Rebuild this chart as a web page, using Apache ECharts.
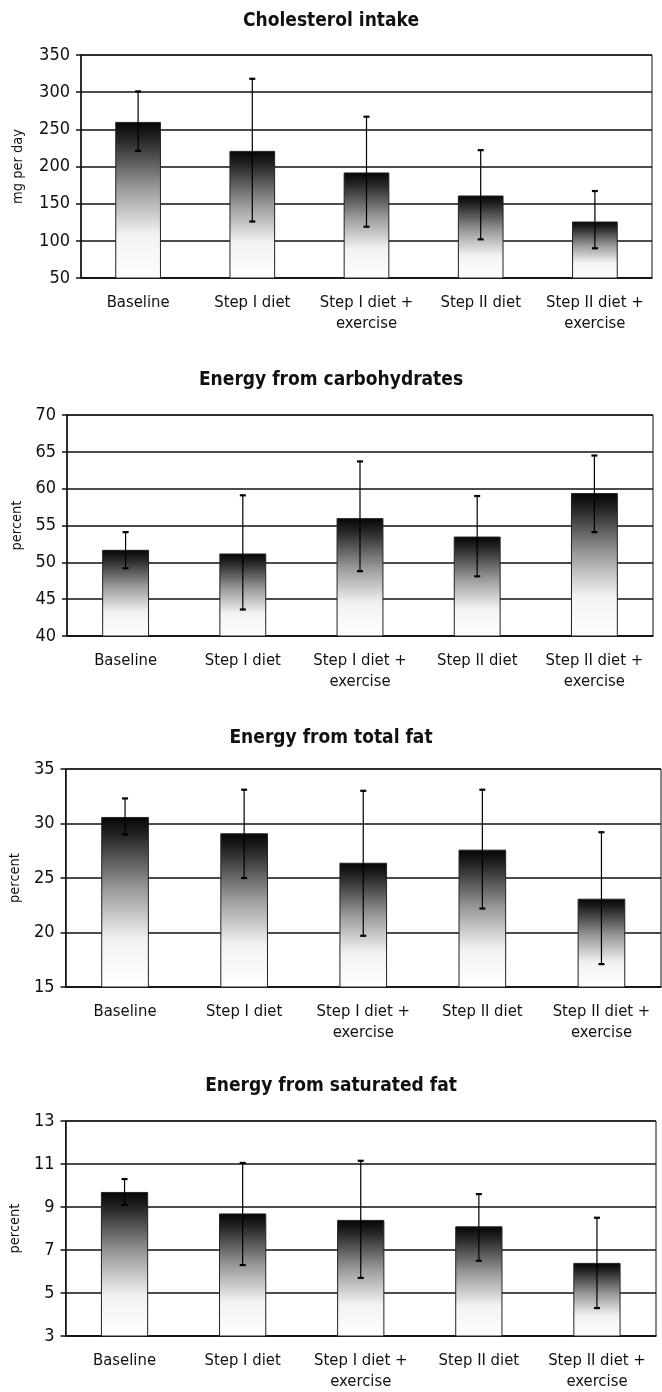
<!DOCTYPE html>
<html>
<head>
<meta charset="utf-8">
<script src="https://cdn.jsdelivr.net/npm/echarts@6/dist/echarts.min.js"></script>
<style>
html,body{margin:0;padding:0;background:#fff;}
#c{width:662px;height:1392px;}
</style>
</head>
<body>
<div id="c"></div>
<script>
var categories = ['Baseline', 'Step I diet', 'Step I diet +\nexercise', 'Step II diet', 'Step II diet +\nexercise'];

var titles = ['Cholesterol intake', 'Energy from carbohydrates', 'Energy from total fat', 'Energy from saturated fat'];
var yNames = ['mg per day', 'percent', 'percent', 'percent'];

var cholMean = [260, 221, 192, 161, 126];
var cholLow  = [221, 126, 119, 102, 90];
var cholHigh = [301, 318, 267, 222, 167];

var carbMean = [51.7, 51.2, 56.0, 53.5, 59.4];
var carbLow  = [49.2, 43.6, 48.8, 48.1, 54.1];
var carbHigh = [54.1, 59.1, 63.7, 59.0, 64.5];

var fatMean = [30.6, 29.1, 26.4, 27.6, 23.1];
var fatLow  = [29.0, 25.0, 19.7, 22.2, 17.1];
var fatHigh = [32.3, 33.1, 33.0, 33.1, 29.2];

var satMean = [9.7, 8.7, 8.4, 8.1, 6.4];
var satLow  = [9.1, 6.3, 5.7, 6.5, 4.3];
var satHigh = [10.3, 11.05, 11.15, 9.6, 8.5];

var yMin = [50, 40, 15, 3];
var yMax = [350, 70, 35, 13];
var yStep = [50, 5, 5, 2];

var panels = [
  {mean: cholMean, low: cholLow, high: cholHigh},
  {mean: carbMean, low: carbLow, high: carbHigh},
  {mean: fatMean, low: fatLow, high: fatHigh},
  {mean: satMean, low: satLow, high: satHigh}
];

// layout (pixels)
var gridPos = [
  {left: 81, right: 10, top: 55, height: 223},
  {left: 67, right: 9, top: 415, height: 221},
  {left: 65, right: 1, top: 769, height: 218},
  {left: 64, right: 6, top: 1121, height: 218}
];
var titleTop = [7, 366, 724, 1072];
var yNameGap = [55, 36, 34, 37];

var FONT = '"DejaVu Sans Condensed", "Liberation Sans Narrow", Arial, sans-serif';

var barGradient = {
  type: 'linear', x: 0, y: 0, x2: 0, y2: 1,
  colorStops: [
    {offset: 0, color: '#050505'},
    {offset: 0.1, color: '#222222'},
    {offset: 0.42, color: '#999999'},
    {offset: 0.72, color: '#f2f2f2'},
    {offset: 1, color: '#ffffff'}
  ]
};

function errItem(params, api) {
  var x = api.value(0);
  var pHi = api.coord([x, api.value(2)]);
  var pLo = api.coord([x, api.value(1)]);
  var cap = 3;
  var st = {stroke: '#000', lineWidth: 1.2};
  var capSt = {stroke: '#000', lineWidth: 2.2};
  return {
    type: 'group',
    children: [
      {type: 'line', shape: {x1: pHi[0], y1: pHi[1], x2: pLo[0], y2: pLo[1]}, style: st},
      {type: 'line', shape: {x1: pHi[0] - cap, y1: pHi[1], x2: pHi[0] + cap, y2: pHi[1]}, style: capSt},
      {type: 'line', shape: {x1: pLo[0] - cap, y1: pLo[1], x2: pLo[0] + cap, y2: pLo[1]}, style: capSt}
    ]
  };
}

var option = {
  backgroundColor: '#fff',
  animation: false,
  title: [], grid: [], xAxis: [], yAxis: [], series: []
};

for (var i = 0; i < 4; i++) {
  option.title.push({
    text: titles[i], left: 'center', top: titleTop[i],
    textStyle: {fontFamily: FONT, fontWeight: 'bold', fontSize: 19, color: '#111'}
  });
  var g = gridPos[i];
  option.grid.push({
    left: g.left, right: g.right, top: g.top, height: g.height,
    show: true, borderColor: '#111', borderWidth: 1, backgroundColor: 'transparent'
  });
  option.xAxis.push({
    type: 'category', gridIndex: i, data: categories,
    axisLine: {lineStyle: {color: '#111', width: 1.5}},
    axisTick: {show: false},
    axisLabel: {fontFamily: FONT, fontSize: 16.5, color: '#111', margin: 14, lineHeight: 21, interval: 0}
  });
  option.yAxis.push({
    type: 'value', gridIndex: i, min: yMin[i], max: yMax[i], interval: yStep[i],
    name: yNames[i], nameLocation: 'middle', nameGap: yNameGap[i], nameRotate: 90,
    nameTextStyle: {fontFamily: FONT, fontSize: 14.5, color: '#111'},
    axisLine: {show: true, lineStyle: {color: '#111', width: 1.5}},
    axisTick: {show: true, length: 5, lineStyle: {color: '#111', width: 1.5}},
    axisLabel: {fontFamily: FONT, fontSize: 18, color: '#111', margin: 11},
    splitLine: {show: true, lineStyle: {color: '#111', width: 1.5}}
  });
  var p = panels[i];
  option.series.push({
    type: 'bar', xAxisIndex: i, yAxisIndex: i,
    data: p.mean,
    barWidth: '40%',
    itemStyle: {color: barGradient, borderColor: '#222', borderWidth: 1}
  });
  var errData = [];
  for (var k = 0; k < categories.length; k++) errData.push([k, p.low[k], p.high[k]]);
  option.series.push({
    type: 'custom', xAxisIndex: i, yAxisIndex: i,
    renderItem: errItem, data: errData, z: 5,
    encode: {x: 0, y: [1, 2]}
  });
}

var chart = echarts.init(document.getElementById('c'), null, {renderer: 'canvas'});
chart.setOption(option);
</script>
</body>
</html>
